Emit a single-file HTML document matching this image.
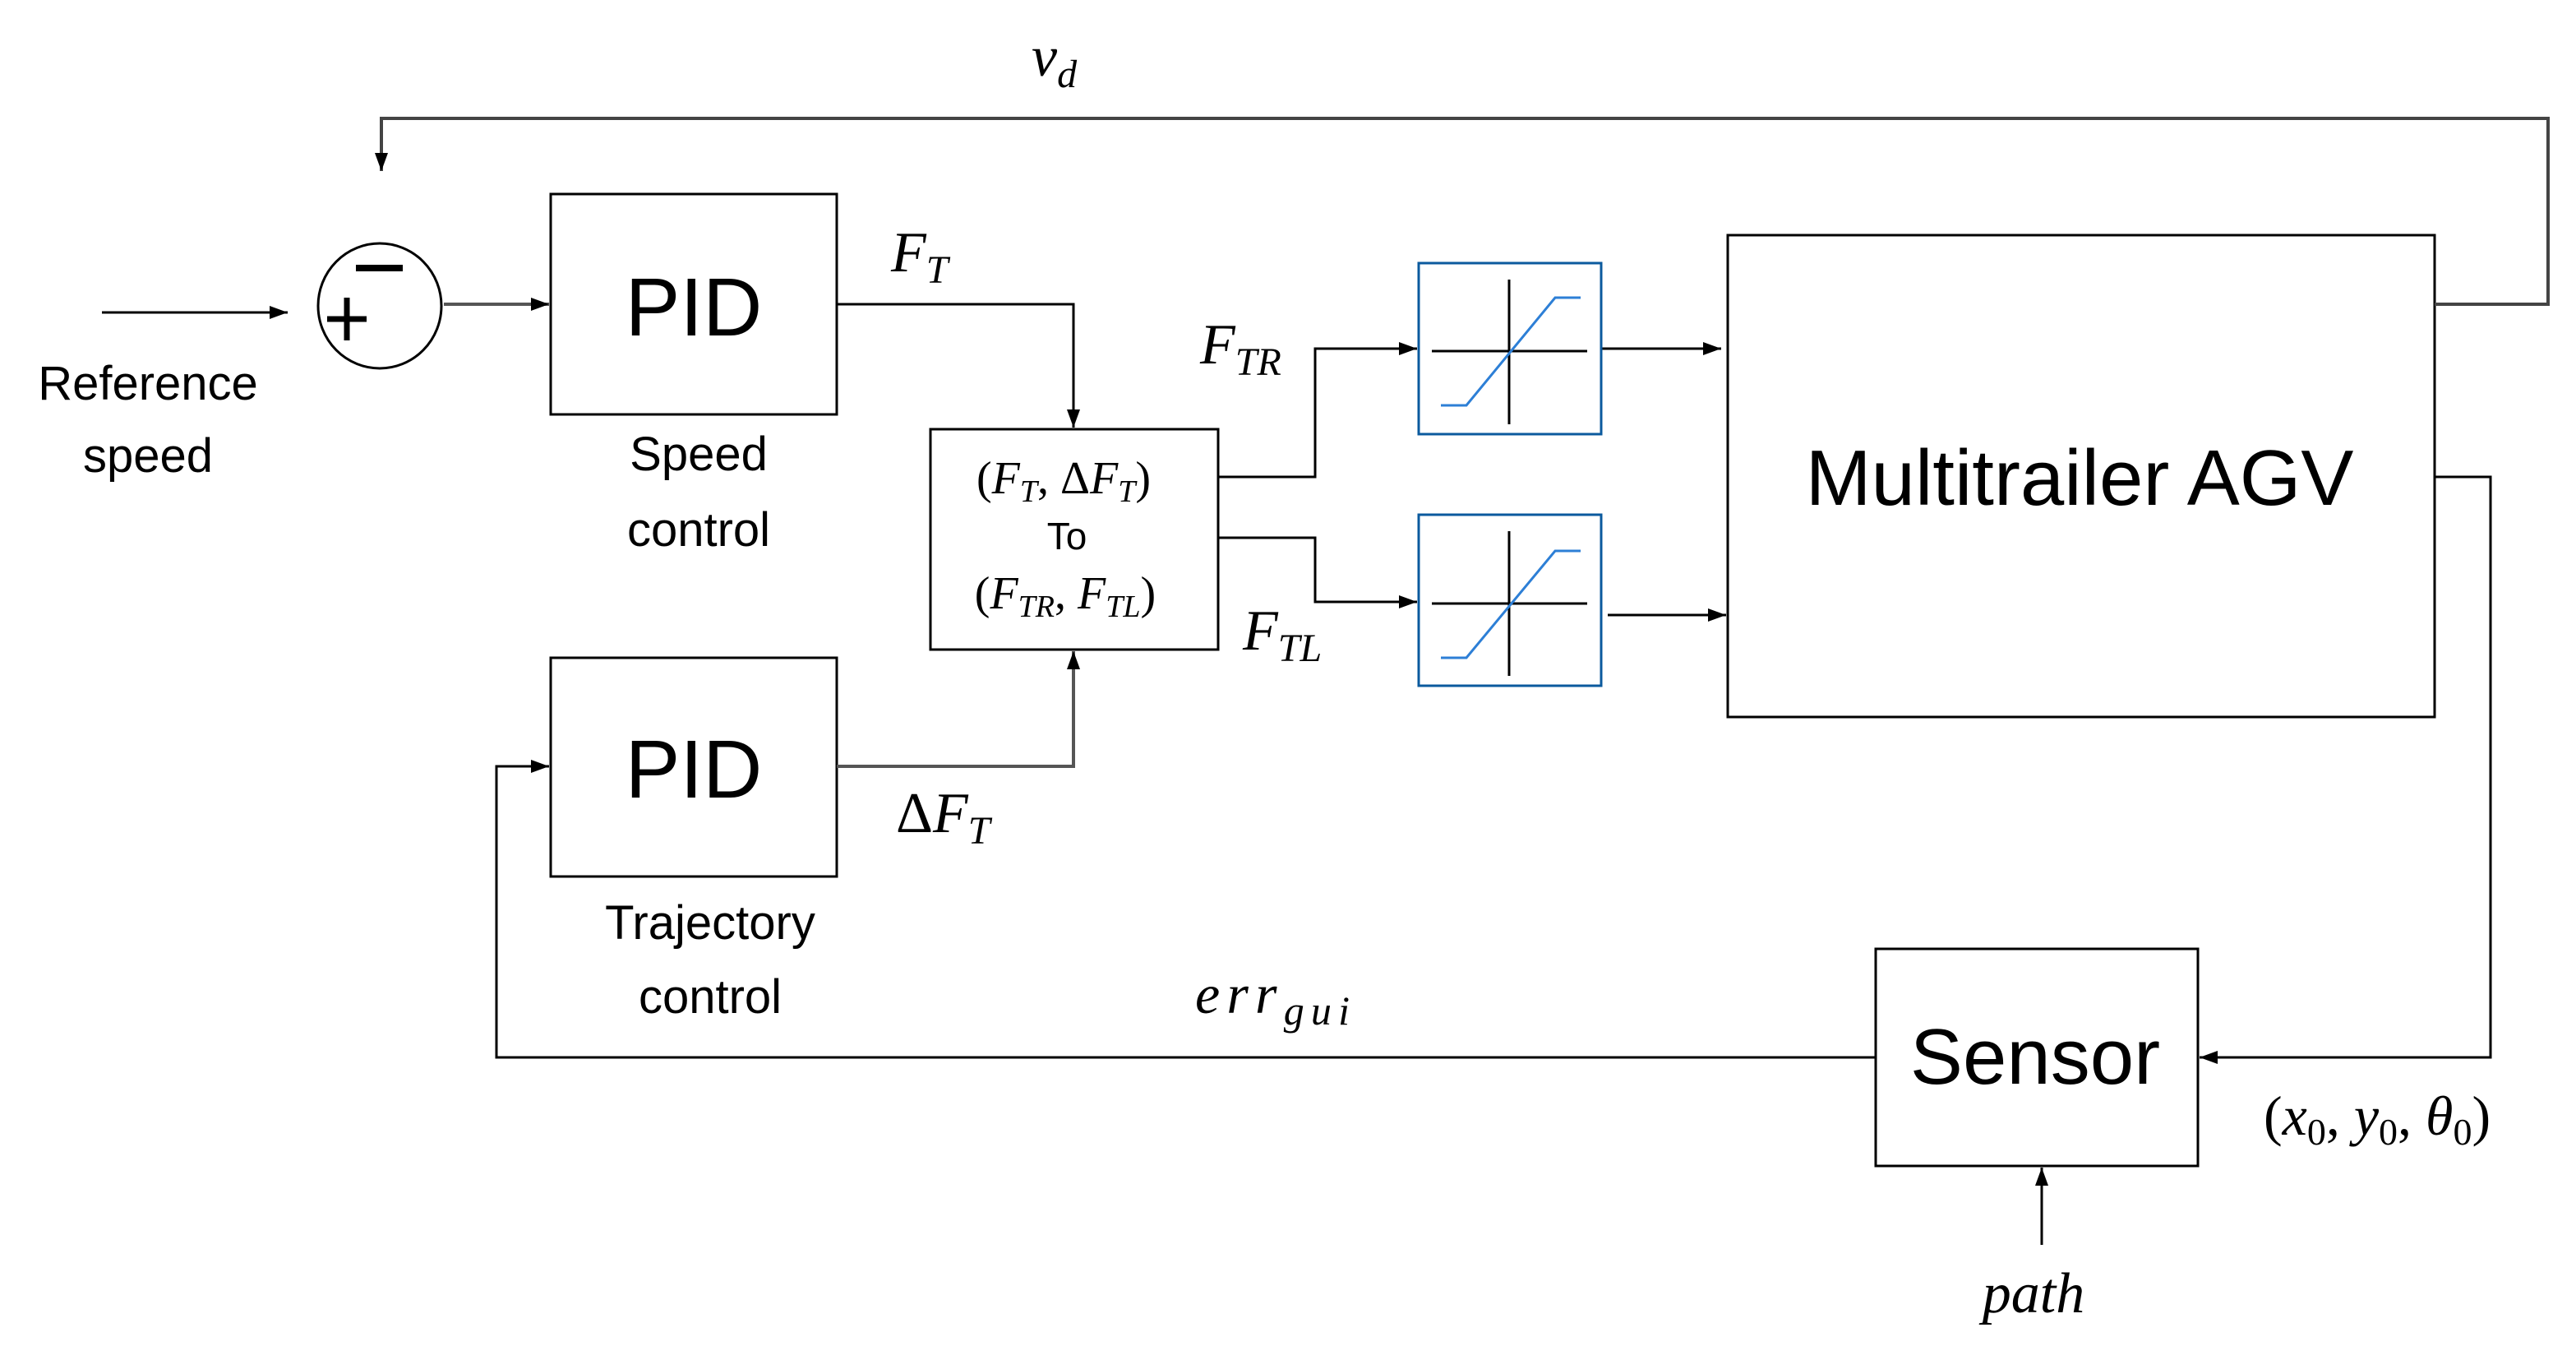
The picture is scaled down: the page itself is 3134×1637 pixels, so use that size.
<!DOCTYPE html>
<html><head><meta charset="utf-8"><style>
html,body{margin:0;padding:0;background:#fff}
svg{display:block}
.s{font-family:"Liberation Sans",sans-serif;fill:#000}
.m{font-family:"Liberation Serif",serif;font-style:italic;fill:#000}
.r{font-family:"Liberation Serif",serif;fill:#000}
</style></head><body>
<svg width="3134" height="1637" viewBox="0 0 3134 1637" xmlns="http://www.w3.org/2000/svg">
<defs>
<marker id="A" markerWidth="22" markerHeight="16" refX="22" refY="8" orient="auto" markerUnits="userSpaceOnUse" viewBox="0 0 22 16">
<path d="M0,0 L22,8 L0,16 z" fill="#000"/></marker>
</defs>
<g fill="none" stroke="#000" stroke-width="3">
<line x1="124" y1="380" x2="350" y2="380" marker-end="url(#A)"/>
<ellipse cx="462" cy="372" rx="75" ry="76"/>
<line x1="540" y1="370" x2="668" y2="370" stroke="#555" stroke-width="4" marker-end="url(#A)"/>
<rect x="670" y="236" width="348" height="268"/>
<rect x="670" y="800" width="348" height="266"/>
<rect x="1132" y="522" width="350" height="268"/>
<rect x="2102" y="286" width="860" height="586"/>
<rect x="2282" y="1154" width="392" height="264"/>
<polyline points="1018,370 1306,370 1306,520" marker-end="url(#A)"/>
<polyline points="1018,932 1306,932 1306,792" stroke="#555" stroke-width="4" marker-end="url(#A)"/>
<polyline points="1482,580 1600,580 1600,424 1724,424" marker-end="url(#A)"/>
<polyline points="1482,654 1600,654 1600,732 1724,732" marker-end="url(#A)"/>
<line x1="1948" y1="424" x2="2094" y2="424" marker-end="url(#A)"/>
<line x1="1956" y1="748" x2="2100" y2="748" marker-end="url(#A)"/>
<polyline points="2962,370 3100,370 3100,144 464,144 464,208" stroke="#444" stroke-width="4" marker-end="url(#A)"/>
<polyline points="2962,580 3030,580 3030,1286 2676,1286" marker-end="url(#A)"/>
<polyline points="2282,1286 604,1286 604,932 668,932" marker-end="url(#A)"/>
<line x1="2484" y1="1514" x2="2484" y2="1420" marker-end="url(#A)"/>
<rect x="1726" y="320" width="222" height="208" stroke="#0b5a9e" stroke-width="3"/>
<line x1="1742" y1="427" x2="1931" y2="427"/>
<line x1="1836" y1="340" x2="1836" y2="516"/>
<polyline points="1753,493 1784,493 1892,362 1923,362" stroke="#2d7fd6" stroke-width="3"/>
<rect x="1726" y="626" width="222" height="208" stroke="#0b5a9e" stroke-width="3"/>
<line x1="1742" y1="734" x2="1931" y2="734"/>
<line x1="1836" y1="646" x2="1836" y2="822"/>
<polyline points="1753,800 1784,800 1892,670 1923,670" stroke="#2d7fd6" stroke-width="3"/>
<line x1="433" y1="326" x2="490" y2="326" stroke-width="8"/>
<line x1="398" y1="388" x2="446" y2="388" stroke-width="7"/>
<line x1="422" y1="362" x2="422" y2="414" stroke-width="7"/>
</g>
<text class="s" x="844" y="408" font-size="100" text-anchor="middle">PID</text>
<text class="s" x="844" y="970" font-size="100" text-anchor="middle">PID</text>
<text class="s" x="2530" y="614" font-size="96" text-anchor="middle">Multitrailer AGV</text>
<text class="s" x="2476" y="1318" font-size="96" text-anchor="middle">Sensor</text>
<text class="s" x="180" y="486" font-size="58" text-anchor="middle">Reference</text>
<text class="s" x="180" y="574" font-size="58" text-anchor="middle">speed</text>
<text class="s" x="850" y="572" font-size="58" text-anchor="middle">Speed</text>
<text class="s" x="850" y="664" font-size="58" text-anchor="middle">control</text>
<text class="s" x="864" y="1142" font-size="58" text-anchor="middle">Trajectory</text>
<text class="s" x="864" y="1232" font-size="58" text-anchor="middle">control</text>
<text class="r" x="1294" y="600" font-size="56" text-anchor="middle">(<tspan class="m">F</tspan><tspan class="m" font-size="38" dy="10">T</tspan><tspan dy="-10">, Δ</tspan><tspan class="m">F</tspan><tspan class="m" font-size="38" dy="10">T</tspan><tspan dy="-10">)</tspan></text>
<text class="s" x="1298" y="668" font-size="46" text-anchor="middle">To</text>
<text class="r" x="1296" y="740" font-size="56" text-anchor="middle">(<tspan class="m">F</tspan><tspan class="m" font-size="38" dy="10">TR</tspan><tspan dy="-10">, </tspan><tspan class="m">F</tspan><tspan class="m" font-size="38" dy="10">TL</tspan><tspan dy="-10">)</tspan></text>
<text class="m" x="1255" y="92" font-size="70">v<tspan font-size="48" dy="14">d</tspan></text>
<text class="m" x="1084" y="330" font-size="70">F<tspan font-size="48" dy="14">T</tspan></text>
<text class="m" x="1460" y="442" font-size="70">F<tspan font-size="48" dy="14">TR</tspan></text>
<text class="m" x="1512" y="790" font-size="70">F<tspan font-size="48" dy="14">TL</tspan></text>
<text class="r" x="1090" y="1012" font-size="70">Δ<tspan class="m">F</tspan><tspan class="m" font-size="48" dy="14">T</tspan></text>
<text class="m" x="1454" y="1232" font-size="68" textLength="188">err<tspan font-size="50" dy="14">gui</tspan></text>
<text class="r" x="2754" y="1380" font-size="68">(<tspan class="m">x</tspan><tspan font-size="46" dy="12">0</tspan><tspan dy="-12">, </tspan><tspan class="m">y</tspan><tspan font-size="46" dy="12">0</tspan><tspan dy="-12">, </tspan><tspan class="m">θ</tspan><tspan font-size="46" dy="12">0</tspan><tspan dy="-12">)</tspan></text>
<text class="m" x="2474" y="1596" font-size="70" text-anchor="middle">path</text>
</svg>
</body></html>
